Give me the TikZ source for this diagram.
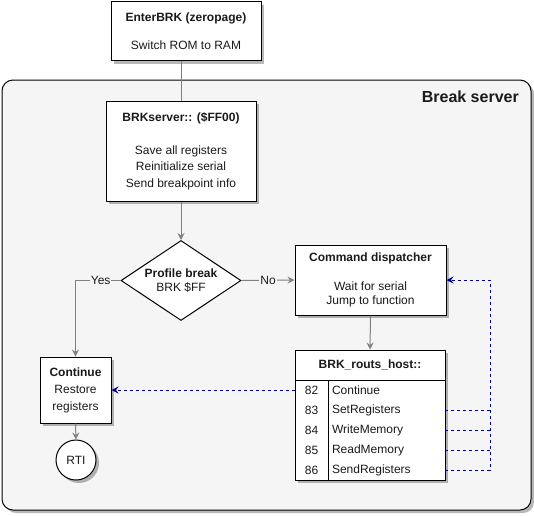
\documentclass[tikz,border=0pt]{standalone}
\usepackage{fontspec}
\setmainfont{Liberation Sans}
\usetikzlibrary{arrows.meta,shapes.geometric,shadows}
\definecolor{bgc}{HTML}{F5F5F5}
\definecolor{linec}{HTML}{808080}
\definecolor{bluec}{HTML}{000099}
\definecolor{txtc}{HTML}{1A1A1A}
\tikzset{
  shad/.style={drop shadow={shadow xshift=3pt,shadow yshift=-3pt,fill=black,opacity=0.28}},
  box/.style={draw=black,line width=1pt,fill=white,shad,rectangle,inner sep=0pt,align=center,text=txtc,
    font=\fontsize{12}{14.5}\selectfont},
  dia/.style={draw=black,line width=1pt,fill=white,diamond,aspect=1.5,inner sep=0pt,
    minimum width=120pt,minimum height=80pt,align=center,text=txtc,font=\fontsize{12}{14}\selectfont},
  cell/.style={inner sep=0pt,text=txtc,font=\fontsize{12}{14}\selectfont,minimum height=20pt},
  glink/.style={draw=linec,line width=1pt},
  garrow/.style={glink,-{Stealth[length=7pt,width=7pt,inset=2.5pt]}},
  blink/.style={draw=bluec,line width=1pt,dash pattern=on 3pt off 3pt},
  barrow/.style={blink,-{Stealth[length=7pt,width=7pt,inset=2.5pt,bluec]}},
  lbl/.style={fill=bgc,inner sep=1pt,text=txtc,font=\fontsize{12}{14}\selectfont},
}
\begin{document}
\begin{tikzpicture}[x=1pt,y=-1pt]
\useasboundingbox (0,0) rectangle (534,515);
% container
\node[draw=black,line width=1pt,fill=bgc,rounded corners=11pt,shad,minimum width=529pt,minimum height=430pt,inner sep=0pt] (srv) at (266.5,295) {};
\node[anchor=east,text=txtc,font=\bfseries\fontsize{16}{18}\selectfont,inner sep=0pt] (srvtitle) at (519,97) {Break server};
% boxes
\node[box,minimum width=150pt,minimum height=59pt] (enter) at (186,31)
  {\textbf{EnterBRK (zeropage)}\\[14pt]Switch ROM to RAM};
\node[box,minimum width=150pt,minimum height=100pt,font=\fontsize{12}{16.5}\selectfont] (brk) at (181,151)
  {\textbf{BRKserver:: (\$FF00)}\\[16.5pt]Save all registers\\Reinitialize serial\\Send breakpoint info};
\node[dia] (prof) at (181,280.5) {\textbf{Profile break}\\BRK \$FF};
\node[box,minimum width=151pt,minimum height=70pt] (cmd) at (370.5,280)
  {\textbf{Command dispatcher}\\[14pt]Wait for serial\\Jump to function};
\node[box,minimum width=71pt,minimum height=66pt,font=\fontsize{12}{17}\selectfont] (cont) at (75.5,390)
  {\textbf{Continue}\\Restore\\registers};
\node[box,circle,minimum size=40pt] (rti) at (76,460) {RTI};
% table
\node[box,minimum width=150pt,minimum height=130pt] (tbl) at (370,415) {};
\node[cell,font=\bfseries\fontsize{12}{14}\selectfont,minimum width=150pt,minimum height=30pt] (thead) at (370,365) {BRK\_routs\_host::};
\draw[line width=1pt] (tbl.west |- thead.south) -- (tbl.east |- thead.south);
\coordinate (colsep) at (328,380);
\draw[line width=1pt] (colsep) -- (colsep |- tbl.south);
\foreach \n/\t/\y in {82/Continue/390,83/SetRegisters/410,84/WriteMemory/430,85/ReadMemory/450,86/SendRegisters/470}{
  \node[cell,minimum width=33pt] (n\n) at (311.5,\y) {\n};
  \node[cell,minimum width=117pt,text width=109pt,align=left,inner xsep=4pt] (r\n) at (386.5,\y) {\t};
}
% connectors
\draw[glink] (brk.north) -- (brk.north |- enter.south);
\draw[garrow] (brk.south) -- (prof.north);
\draw[garrow] (prof.east) -- (cmd.west) node[lbl,pos=0.5] {No};
\draw[garrow] (prof.west) -| (cont.north) node[lbl,pos=0.22] {Yes};
\draw[garrow] (cmd.south) -- (tbl.north);
\draw[garrow] (cont.south) -- (rti.north);
\draw[barrow] (r82.west -| tbl.west) -- (cont.east);
\coordinate (bus) at (490,280);
\draw[blink] (r83.east) -- (r83.east -| bus);
\draw[blink] (r84.east) -- (r84.east -| bus);
\draw[blink] (r85.east) -- (r85.east -| bus);
\draw[barrow] (r86.east) -| (bus) -- (cmd.east);
\end{tikzpicture}
\end{document}
